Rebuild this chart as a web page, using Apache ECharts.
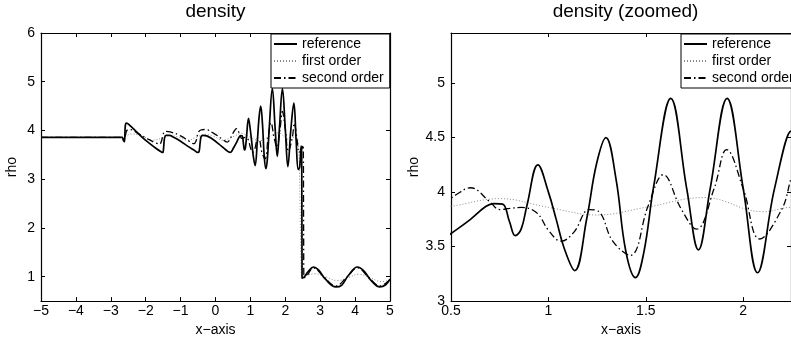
<!DOCTYPE html>
<html>
<head>
<meta charset="utf-8">
<script src="https://cdn.jsdelivr.net/npm/echarts@6/dist/echarts.min.js"></script>
<style>
html,body{margin:0;padding:0;background:#fff;}
#c{width:791px;height:342px;}
</style>
</head>
<body>
<div id="c"></div>
<script>
// ---- data ----
const refX = [-5, -2.68, -2.64, -2.61, -2.595, -2.58, -2.55, -2.45, -2.3, -2.1, -1.9, -1.7, -1.56, -1.51, -1.49, -1.46, -1.42, -1.32, -1.2, -1.0, -0.8, -0.6, -0.51, -0.47, -0.44, -0.41, -0.36, -0.25, -0.1, 0.1, 0.3, 0.42, 0.46, 0.5, 0.6, 0.68, 0.72, 0.765, 0.80, 0.83, 0.86, 0.89, 0.946, 1.0, 1.04, 1.08, 1.135, 1.197, 1.247, 1.295, 1.347, 1.397, 1.447, 1.49, 1.54, 1.628, 1.71, 1.77, 1.83, 1.917, 2.0, 2.073, 2.16, 2.245, 2.31, 2.37, 2.41, 2.455, 2.47, 2.48, 2.55, 2.65, 2.81, 2.95, 3.15, 3.45, 3.62, 3.8, 4.07, 4.25, 4.45, 4.71, 4.87, 5.0];
const refRho = [3.857, 3.857, 3.80, 3.77, 3.95, 4.12, 4.15, 4.10, 4.00, 3.86, 3.74, 3.63, 3.565, 3.55, 3.62, 3.85, 3.90, 3.90, 3.86, 3.78, 3.68, 3.59, 3.55, 3.57, 3.75, 3.88, 3.90, 3.89, 3.83, 3.72, 3.60, 3.55, 3.57, 3.62, 3.75, 3.87, 3.895, 3.89, 3.73, 3.60, 3.66, 3.88, 4.25, 4.0, 3.75, 3.49, 3.28, 3.76, 4.26, 4.50, 4.12, 3.46, 3.215, 3.45, 4.05, 4.86, 4.03, 3.47, 4.03, 4.86, 4.03, 3.26, 4.03, 4.56, 3.80, 3.20, 3.25, 3.68, 3.50, 0.97, 1.00, 1.10, 1.20, 1.14, 0.95, 0.79, 0.83, 1.02, 1.20, 1.12, 0.93, 0.79, 0.83, 0.95];

const firstX = [-5, -2.75, -2.6, -2.4, -2.1, -1.8, -1.5, -1.3, -1.05, -0.8, -0.55, -0.3, -0.05, 0.2, 0.5, 0.75, 1.0, 1.25, 1.5, 1.8, 2.1, 2.25, 2.33, 2.38, 2.42, 2.45, 2.48, 2.6, 2.85, 3.15, 3.5, 3.8, 4.1, 4.4, 4.75, 5.0];
const firstRho = [3.857, 3.857, 3.88, 3.93, 3.88, 3.80, 3.85, 3.90, 3.86, 3.80, 3.86, 3.92, 3.88, 3.80, 3.87, 3.94, 3.86, 3.79, 3.86, 3.95, 3.82, 3.86, 3.84, 3.70, 2.60, 1.30, 1.00, 1.03, 1.06, 1.00, 0.92, 0.98, 1.05, 0.99, 0.90, 0.93];

const secondX = [-5, -2.68, -2.62, -2.58, -2.54, -2.45, -2.2, -1.95, -1.7, -1.6, -1.55, -1.5, -1.45, -1.3, -1.0, -0.75, -0.62, -0.55, -0.5, -0.42, -0.3, -0.05, 0.2, 0.33, 0.4, 0.47, 0.53, 0.6, 0.7, 0.75, 0.8, 0.86, 0.94, 1.0, 1.065, 1.13, 1.21, 1.26, 1.33, 1.42, 1.513, 1.59, 1.68, 1.76, 1.85, 1.915, 2.0, 2.085, 2.2, 2.26, 2.33, 2.40, 2.47, 2.51, 2.525, 2.535, 2.6, 2.81, 3.1, 3.45, 3.75, 4.07, 4.4, 4.71, 5.0];
const secondRho = [3.857, 3.857, 3.82, 3.90, 4.00, 4.02, 3.93, 3.83, 3.74, 3.72, 3.78, 3.92, 3.98, 3.97, 3.89, 3.78, 3.73, 3.80, 3.95, 4.01, 4.02, 3.94, 3.82, 3.76, 3.80, 3.90, 3.98, 4.04, 3.91, 3.84, 3.85, 3.86, 3.81, 3.65, 3.55, 3.63, 3.84, 3.82, 3.55, 3.42, 3.88, 4.16, 3.85, 3.66, 4.03, 4.39, 4.03, 3.57, 3.85, 4.15, 3.85, 3.55, 3.62, 3.70, 2.0, 0.98, 1.0, 1.18, 1.0, 0.81, 0.98, 1.18, 0.98, 0.81, 0.94];

const seriesNames = ['reference', 'first order', 'second order'];
const titles = ['density', 'density (zoomed)'];
const leftXTicks = [-5, -4, -3, -2, -1, 0, 1, 2, 3, 4, 5];
const leftYTicks = [1, 2, 3, 4, 5, 6];
const rightXTicks = [0.5, 1, 1.5, 2];
const rightYTicks = [3, 3.5, 4, 4.5, 5];

// ---- chart ----
const FONT = "'Liberation Sans', Arial, Helvetica, sans-serif";
const zip = (xs, ys) => xs.map((x, i) => [x, ys[i]]);
const fmt = v => String(v).replace('-', '\u2212');

const G = [
  {left: 41, top: 33, width: 349, height: 271},
  {left: 451, top: 33, width: 349, height: 271}
];
const ranges = [
  {xmin: -5, xmax: 5, ymin: 0.5, ymax: 6, xt: leftXTicks, yt: leftYTicks, nameGap: 22},
  {xmin: 0.5, xmax: 2.245, ymin: 3, ymax: 5.46, xt: rightXTicks, yt: rightYTicks, nameGap: 30}
];

const xAxis = [], yAxis = [];
ranges.forEach((r, gi) => {
  const tick = (vals) => ({show: true, inside: true, length: 4, lineStyle: {color: '#000', width: 1}, customValues: vals});
  const line = {show: true, onZero: false, lineStyle: {color: '#000', width: 1.2}};
  xAxis.push({
    type: 'value', gridIndex: gi, position: 'bottom', min: r.xmin, max: r.xmax,
    axisLine: line, axisTick: tick(r.xt), splitLine: {show: false},
    axisLabel: {customValues: r.xt, formatter: fmt, color: '#000', fontSize: 14, fontFamily: FONT, margin: 3},
    name: 'x\u2212axis', nameLocation: 'middle', nameGap: 18,
    nameTextStyle: {color: '#000', fontSize: 14, fontFamily: FONT}
  });
  xAxis.push({
    type: 'value', gridIndex: gi, position: 'top', min: r.xmin, max: r.xmax,
    axisLine: line, axisTick: tick(r.xt), splitLine: {show: false},
    axisLabel: {show: false}
  });
  yAxis.push({
    type: 'value', gridIndex: gi, position: 'left', min: r.ymin, max: r.ymax,
    axisLine: line, axisTick: tick(r.yt), splitLine: {show: false},
    axisLabel: {customValues: r.yt, formatter: fmt, color: '#000', fontSize: 14, fontFamily: FONT, margin: 6},
    name: 'rho', nameLocation: 'middle', nameGap: r.nameGap, nameRotate: 90,
    nameTextStyle: {color: '#000', fontSize: 14, fontFamily: FONT}
  });
  yAxis.push({
    type: 'value', gridIndex: gi, position: 'right', min: r.ymin, max: r.ymax,
    axisLine: line, axisTick: tick(r.yt), splitLine: {show: false},
    axisLabel: {show: false}
  });
});

const styles = [
  {color: '#000', width: 1.7, type: 'solid'},
  {color: '#888', width: 1, type: [1, 2]},
  {color: '#000', width: 1.3, type: [7, 3, 1.5, 3]}
];
const datasets = [zip(refX, refRho), zip(firstX, firstRho), zip(secondX, secondRho)];

const series = [];
[0, 1].forEach(gi => {
  [1, 2, 0].forEach(si => {
    series.push({
      type: 'line', name: seriesNames[si], xAxisIndex: gi * 2, yAxisIndex: gi * 2,
      data: datasets[si], showSymbol: false, symbol: 'none', smooth: 0.4,
      lineStyle: styles[si], itemStyle: {color: styles[si].color}, clip: true,
      animation: false, z: si === 0 ? 3 : 2
    });
  });
});

const legend = [271, 681].map(l => ({
  data: seriesNames, orient: 'vertical', left: l, top: 34,
  backgroundColor: '#fff', borderColor: '#000', borderWidth: 1, borderRadius: 0,
  padding: [3, 6, 3, 2], itemGap: 3, itemWidth: 23, itemHeight: 14,
  selectedMode: false,
  itemStyle: {opacity: 0},
  textStyle: {color: '#000', fontSize: 14, fontFamily: FONT, lineHeight: 14}
}));

const graphic = titles.map((t, i) => ({
  type: 'text',
  x: G[i].left + G[i].width / 2, y: 12,
  style: {text: t, fill: '#000', fontSize: 19, fontFamily: FONT, textAlign: 'center', textVerticalAlign: 'middle'}
}));

const chart = echarts.init(document.getElementById('c'), null, {renderer: 'canvas'});
chart.setOption({
  animation: false,
  backgroundColor: '#fff',
  grid: G,
  xAxis, yAxis, series, legend, graphic
});
</script>
</body>
</html>
